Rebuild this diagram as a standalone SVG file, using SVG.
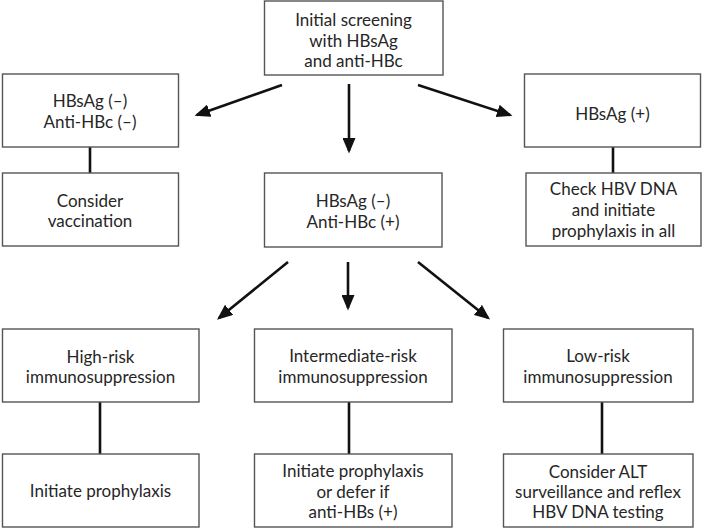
<svg xmlns="http://www.w3.org/2000/svg" width="703" height="529" viewBox="0 0 703 529">
<style>
.box{fill:#fff;stroke:#555;stroke-width:1.4}
.t{font-family:Lato,"Liberation Sans",sans-serif;font-size:17px;fill:#262626;text-anchor:middle}
.arr{stroke:#111;stroke-width:2.6;fill:none;marker-end:url(#ah)}
.ln{stroke:#111;stroke-width:2.6;fill:none}
</style>
<defs>
<marker id="ah" markerWidth="6" markerHeight="5" refX="5" refY="2.5" orient="auto" markerUnits="strokeWidth">
<path d="M0,0 L6,2.5 L0,5 Z" fill="#111"/>
</marker>
</defs>
<rect width="703" height="529" fill="#fff"/>
<g id="connectors">
<line class="arr" x1="282" y1="85" x2="197" y2="115"/>
<line class="arr" x1="349" y1="84" x2="349" y2="151"/>
<line class="arr" x1="418" y1="85" x2="510" y2="115"/>
<line class="arr" x1="288" y1="262" x2="219" y2="318"/>
<line class="arr" x1="348" y1="262" x2="348" y2="308"/>
<line class="arr" x1="418" y1="262" x2="488" y2="318"/>
<line class="ln" x1="90" y1="147" x2="90" y2="173"/>
<line class="ln" x1="613" y1="147" x2="613" y2="173"/>
<line class="ln" x1="100" y1="402" x2="100" y2="454"/>
<line class="ln" x1="349" y1="402" x2="349" y2="454"/>
<line class="ln" x1="602" y1="402" x2="602" y2="454"/>
</g>
<g id="n_init">
<rect class="box" x="264.5" y="1" width="178.5" height="74"/>
<text class="t" x="353.5" y="26">Initial screening</text>
<text class="t" x="353.5" y="47">with HBsAg</text>
<text class="t" x="353.5" y="67">and anti-HBc</text>
</g>
<g id="n_negneg">
<rect class="box" x="2.5" y="74" width="176" height="73"/>
<text class="t" x="90" y="107">HBsAg (–)</text>
<text class="t" x="90" y="128">Anti-HBc (–)</text>
</g>
<g id="n_vacc">
<rect class="box" x="2.5" y="173" width="176" height="73"/>
<text class="t" x="90" y="207">Consider</text>
<text class="t" x="90" y="227">vaccination</text>
</g>
<g id="n_pos">
<rect class="box" x="524.5" y="74" width="176" height="73"/>
<text class="t" x="612.5" y="120">HBsAg (+)</text>
</g>
<g id="n_check">
<rect class="box" x="526" y="173" width="175" height="73"/>
<text class="t" x="613.5" y="195">Check HBV DNA</text>
<text class="t" x="613.5" y="216">and initiate</text>
<text class="t" x="613.5" y="237">prophylaxis in all</text>
</g>
<g id="n_negpos">
<rect class="box" x="264.5" y="173" width="177.5" height="74"/>
<text class="t" x="353" y="207">HBsAg (–)</text>
<text class="t" x="353" y="228">Anti-HBc (+)</text>
</g>
<g id="n_high">
<rect class="box" x="2.5" y="329" width="196.5" height="73"/>
<text class="t" x="100.5" y="363">High-risk</text>
<text class="t" x="100.5" y="383">immunosuppression</text>
</g>
<g id="n_high_act">
<rect class="box" x="2.5" y="454" width="196.5" height="73"/>
<text class="t" x="100.5" y="497">Initiate prophylaxis</text>
</g>
<g id="n_mid">
<rect class="box" x="254.5" y="329" width="197.5" height="73"/>
<text class="t" x="353" y="362">Intermediate-risk</text>
<text class="t" x="353" y="383">immunosuppression</text>
</g>
<g id="n_mid_act">
<rect class="box" x="254.5" y="454" width="197.5" height="73"/>
<text class="t" x="353" y="477">Initiate prophylaxis</text>
<text class="t" x="353" y="498">or defer if</text>
<text class="t" x="353" y="518">anti-HBs (+)</text>
</g>
<g id="n_low">
<rect class="box" x="503.5" y="329" width="189.5" height="73"/>
<text class="t" x="598" y="362">Low-risk</text>
<text class="t" x="598" y="383">immunosuppression</text>
</g>
<g id="n_low_act">
<rect class="box" x="503.5" y="454" width="189.5" height="73"/>
<text class="t" x="598" y="478">Consider ALT</text>
<text class="t" x="598" y="498">surveillance and reflex</text>
<text class="t" x="598" y="518">HBV DNA testing</text>
</g>
</svg>
